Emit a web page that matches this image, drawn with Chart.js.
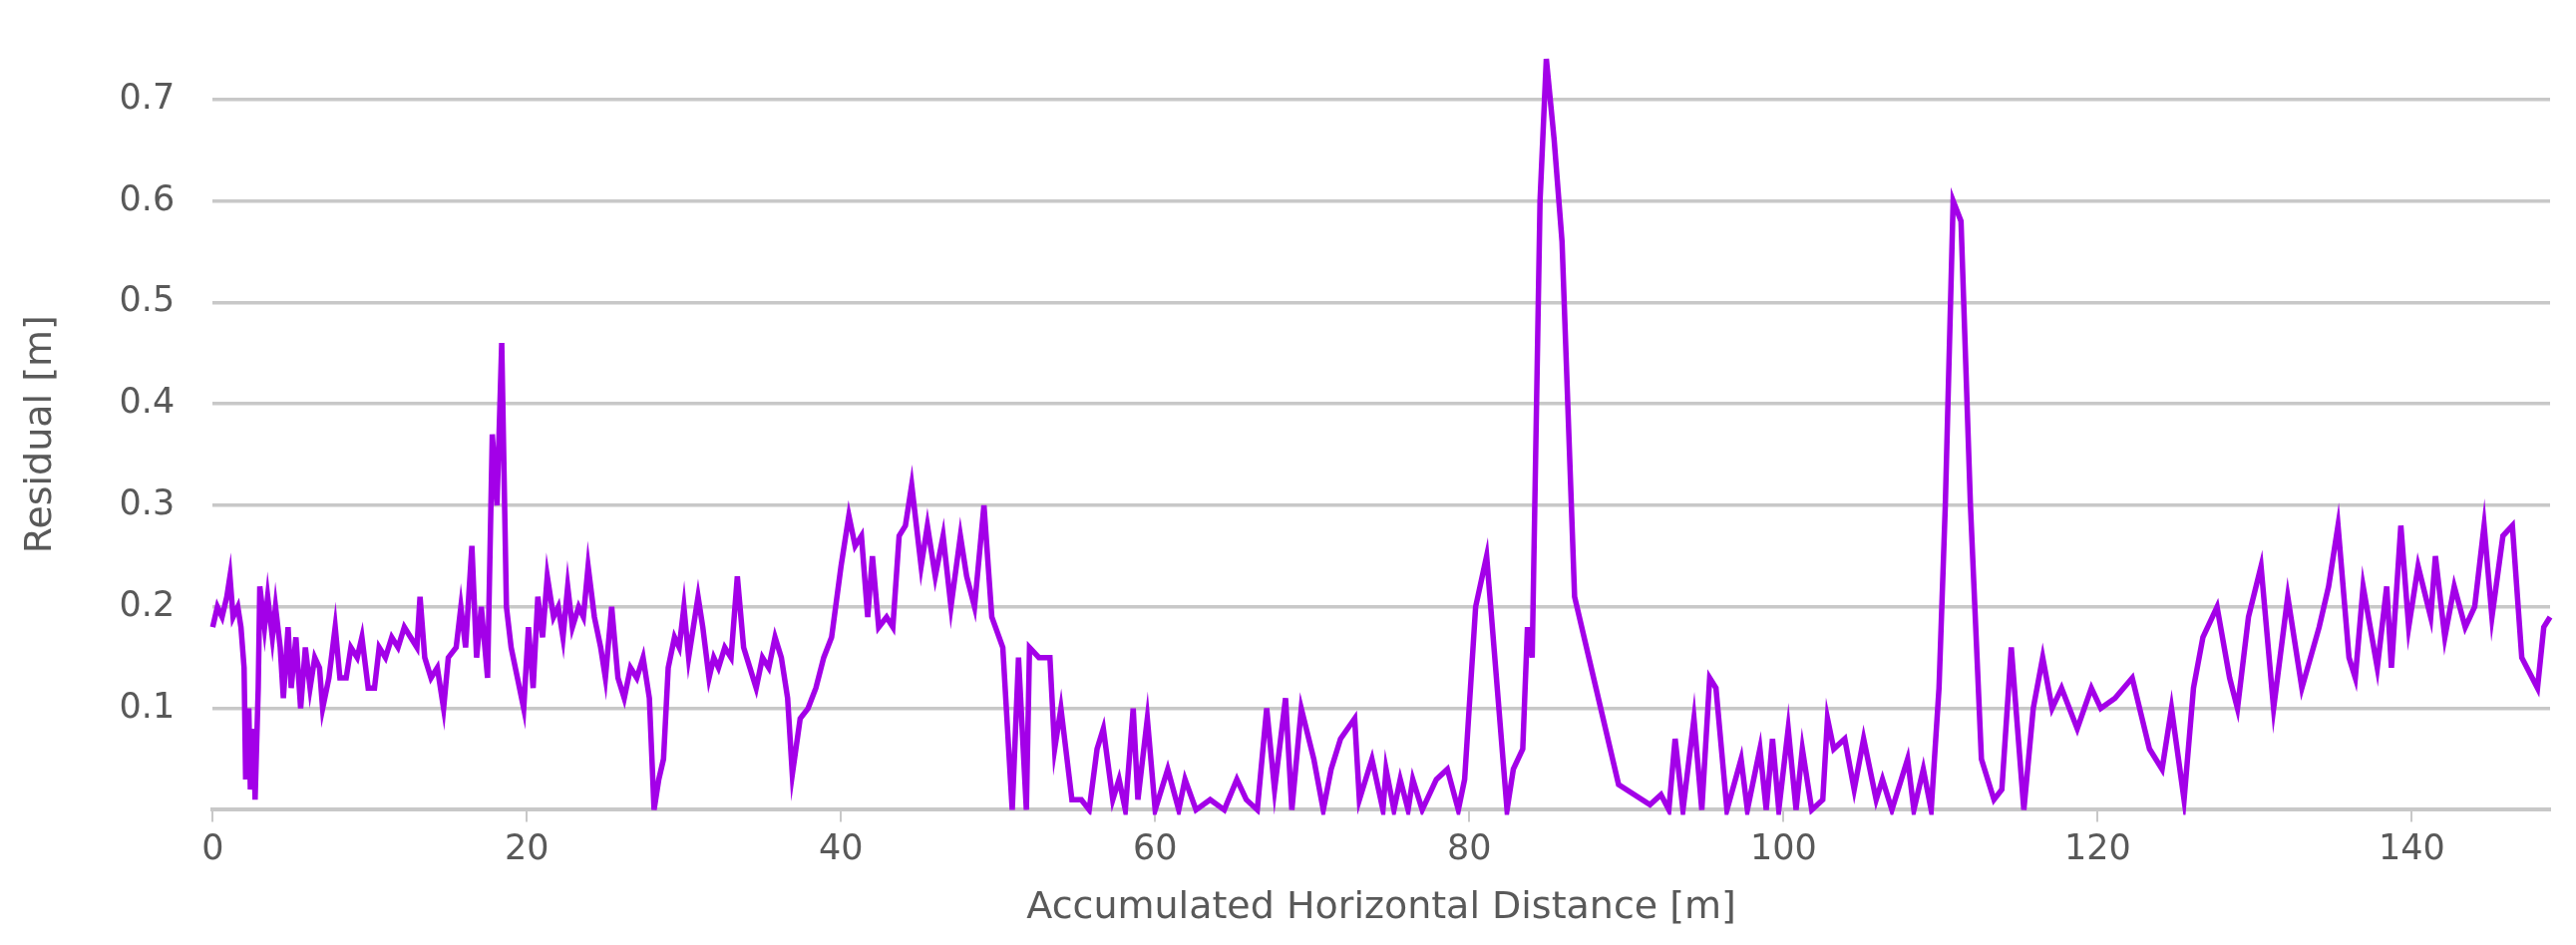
<!DOCTYPE html>
<html>
<head>
<meta charset="utf-8">
<script src="https://cdn.jsdelivr.net/npm/chart.js@4"></script>
<style>
  html, body { margin: 0; padding: 0; background: #fff; }
  #wrap { width: 2583px; height: 948px; }
</style>
</head>
<body>
<div id="wrap"><canvas id="residualChart" width="2583" height="948"></canvas></div>
<script>
// Accumulated horizontal distance [m]
const distance = [
  0.0, 0.3, 0.6, 0.9, 1.1, 1.3, 1.6, 1.8, 2.0, 2.1, 2.3, 2.4, 2.6, 2.7, 2.9, 3.0, 3.3, 3.5, 3.8, 4.0,
  4.3, 4.5, 4.8, 5.0, 5.3, 5.6, 5.9, 6.2, 6.5, 6.8, 7.0, 7.4, 7.8, 8.1, 8.5, 8.8, 9.2, 9.5, 9.9, 10.3,
  10.6, 11.0, 11.4, 11.8, 12.2, 12.6, 13.0, 13.2, 13.5, 13.9, 14.3, 14.7, 15.0, 15.5, 15.8, 16.1, 16.5, 16.8, 17.1, 17.5,
  17.8, 18.1, 18.4, 18.7, 19.0, 19.4, 19.8, 20.1, 20.4, 20.7, 21.0, 21.3, 21.7, 22.0, 22.3, 22.6, 22.9, 23.3, 23.6, 23.9,
  24.3, 24.7, 25.0, 25.4, 25.8, 26.2, 26.6, 27.0, 27.4, 27.8, 28.1, 28.4, 28.7, 29.0, 29.4, 29.7, 30.0, 30.3, 30.6, 30.9,
  31.2, 31.6, 31.9, 32.2, 32.6, 33.0, 33.4, 33.8, 34.2, 34.6, 35.0, 35.4, 35.8, 36.2, 36.6, 36.9, 37.4, 37.9, 38.4, 38.9,
  39.4, 40.0, 40.5, 40.9, 41.3, 41.7, 42.0, 42.4, 42.9, 43.3, 43.7, 44.1, 44.5, 45.1, 45.5, 46.0, 46.5, 47.0, 47.6, 48.0,
  48.5, 49.1, 49.6, 50.3, 50.9, 51.3, 51.8, 52.0, 52.6, 53.3, 53.6, 54.0, 54.7, 55.3, 55.8, 56.3, 56.7, 57.3, 57.7, 58.1,
  58.6, 58.9, 59.5, 60.0, 60.8, 61.5, 61.9, 62.6, 63.5, 64.4, 65.2, 65.8, 66.5, 67.1, 67.6, 68.3, 68.7, 69.3, 70.1, 70.7,
  71.2, 71.8, 72.7, 73.0, 73.8, 74.5, 74.7, 75.2, 75.6, 76.1, 76.4, 77.0, 77.9, 78.6, 79.3, 79.7, 80.4, 81.1, 82.4, 82.8,
  83.4, 83.7, 84.0, 84.5, 84.9, 85.4, 85.9, 86.7, 89.5, 91.5, 92.2, 92.7, 93.1, 93.6, 94.3, 94.8, 95.3, 95.7, 96.4, 97.3,
  97.7, 98.5, 98.9, 99.3, 99.7, 100.3, 100.8, 101.2, 101.8, 102.5, 102.8, 103.2, 103.9, 104.5, 105.1, 105.9, 106.3, 106.9, 107.9, 108.3,
  108.9, 109.4, 109.9, 110.3, 110.8, 111.3, 111.9, 112.6, 113.4, 113.9, 114.5, 115.3, 115.9, 116.5, 117.1, 117.7, 118.7, 119.6, 120.2, 121.1,
  122.2, 123.3, 124.1, 124.7, 125.5, 126.1, 126.7, 127.6, 128.4, 128.9, 129.6, 130.4, 131.2, 132.1, 133.0, 134.1, 134.7, 135.3, 136.0, 136.4,
  136.9, 137.8, 138.4, 138.7, 139.3, 139.8, 140.4, 141.2, 141.5, 142.1, 142.7, 143.4, 144.0, 144.6, 145.1, 145.8, 146.4, 147.0, 148.0, 148.4,
  148.8
];

// Residual [m]
const residual = [
  0.18, 0.20, 0.19, 0.21, 0.23, 0.19, 0.20, 0.18, 0.14, 0.03, 0.10, 0.02, 0.08, 0.01, 0.12, 0.22, 0.18, 0.21, 0.17, 0.20,
  0.16, 0.11, 0.18, 0.12, 0.17, 0.10, 0.16, 0.12, 0.15, 0.14, 0.10, 0.13, 0.18, 0.13, 0.13, 0.16, 0.15, 0.17, 0.12, 0.12,
  0.16, 0.15, 0.17, 0.16, 0.18, 0.17, 0.16, 0.21, 0.15, 0.13, 0.14, 0.10, 0.15, 0.16, 0.20, 0.16, 0.26, 0.15, 0.20, 0.13,
  0.37, 0.30, 0.46, 0.20, 0.16, 0.13, 0.10, 0.18, 0.12, 0.21, 0.17, 0.23, 0.19, 0.20, 0.17, 0.22, 0.18, 0.20, 0.19, 0.24,
  0.19, 0.16, 0.13, 0.20, 0.13, 0.11, 0.14, 0.13, 0.15, 0.11, 0.00, 0.03, 0.05, 0.14, 0.17, 0.16, 0.20, 0.15, 0.18, 0.21,
  0.18, 0.13, 0.15, 0.14, 0.16, 0.15, 0.23, 0.16, 0.14, 0.12, 0.15, 0.14, 0.17, 0.15, 0.11, 0.035, 0.09, 0.10, 0.12, 0.15,
  0.17, 0.24, 0.29, 0.26, 0.27, 0.19, 0.25, 0.18, 0.19, 0.18, 0.27, 0.28, 0.32, 0.24, 0.28, 0.23, 0.27, 0.20, 0.27, 0.23,
  0.20, 0.30, 0.19, 0.16, 0.00, 0.15, 0.00, 0.16, 0.15, 0.15, 0.06, 0.10, 0.01, 0.01, 0.00, 0.06, 0.08, 0.01, 0.03, 0.00,
  0.10, 0.01, 0.09, 0.00, 0.04, 0.00, 0.03, 0.00, 0.01, 0.00, 0.03, 0.01, 0.00, 0.10, 0.02, 0.11, 0.00, 0.10, 0.05, 0.00,
  0.04, 0.07, 0.09, 0.01, 0.05, 0.00, 0.04, 0.00, 0.03, 0.00, 0.03, 0.00, 0.03, 0.04, 0.00, 0.03, 0.20, 0.25, 0.00, 0.04,
  0.06, 0.18, 0.15, 0.60, 0.74, 0.66, 0.56, 0.21, 0.025, 0.005, 0.015, 0.00, 0.07, 0.00, 0.09, 0.00, 0.13, 0.12, 0.00, 0.05,
  0.00, 0.06, 0.00, 0.07, 0.00, 0.08, 0.00, 0.06, 0.00, 0.01, 0.09, 0.06, 0.07, 0.02, 0.07, 0.01, 0.03, 0.00, 0.05, 0.00,
  0.04, 0.00, 0.12, 0.30, 0.60, 0.58, 0.30, 0.05, 0.01, 0.02, 0.16, 0.00, 0.10, 0.15, 0.10, 0.12, 0.08, 0.12, 0.10, 0.11,
  0.13, 0.06, 0.04, 0.10, 0.01, 0.12, 0.17, 0.20, 0.13, 0.10, 0.19, 0.24, 0.10, 0.21, 0.12, 0.18, 0.22, 0.28, 0.15, 0.13,
  0.22, 0.14, 0.22, 0.14, 0.28, 0.18, 0.24, 0.19, 0.25, 0.17, 0.22, 0.18, 0.20, 0.28, 0.19, 0.27, 0.28, 0.15, 0.12, 0.18,
  0.19
];

const yTicks = [0.1, 0.2, 0.3, 0.4, 0.5, 0.6, 0.7];
const xTicks = [0, 20, 40, 60, 80, 100, 120, 140];

const points = distance.map((d, i) => ({ x: d, y: residual[i] }));

const textColor = '#595959';
const gridColor = '#c8c8c8';
const font = 'Tahoma, "DejaVu Sans", Verdana, sans-serif';

const ctx = document.getElementById('residualChart').getContext('2d');
const residualChart = new Chart(ctx, {
    type: 'line',
    data: {
        datasets: [{
            label: 'Residual',
            data: points,
            borderColor: '#a300e8',
            borderWidth: 5.5,
            pointRadius: 0,
            tension: 0,
            fill: false,
            clip: 5
        }]
    },
    options: {
        responsive: false,
        animation: false,
        devicePixelRatio: 1,
        layout: { padding: { top: 4, right: 26, left: 14, bottom: 10 } },
        plugins: {
            legend: { display: false },
            tooltip: { enabled: false }
        },
        scales: {
            x: {
                type: 'linear',
                min: 0,
                max: 148.8,
                afterBuildTicks: axis => { axis.ticks = xTicks.map(v => ({ value: v })); },
                grid: { drawOnChartArea: false, drawTicks: true, tickLength: 12, color: gridColor, lineWidth: 2 },
                border: { display: true, color: gridColor, width: 4 },
                ticks: { color: textColor, font: { family: font, size: 35 }, padding: 8, maxRotation: 0 },
                title: {
                    display: true,
                    text: 'Accumulated Horizontal Distance [m]',
                    color: textColor,
                    font: { family: font, size: 38 },
                    padding: { top: 6 }
                }
            },
            y: {
                min: 0,
                max: 0.74,
                afterBuildTicks: axis => { axis.ticks = yTicks.map(v => ({ value: v })); },
                grid: { color: gridColor, lineWidth: 3.5, drawTicks: false },
                border: { display: false },
                ticks: {
                    color: textColor,
                    font: { family: font, size: 35 },
                    padding: 38,
                    callback: v => v.toFixed(1)
                },
                title: {
                    display: true,
                    text: 'Residual [m]',
                    color: textColor,
                    font: { family: font, size: 38 },
                    padding: { bottom: 18 }
                }
            }
        }
    }
});
</script>
</body>
</html>
